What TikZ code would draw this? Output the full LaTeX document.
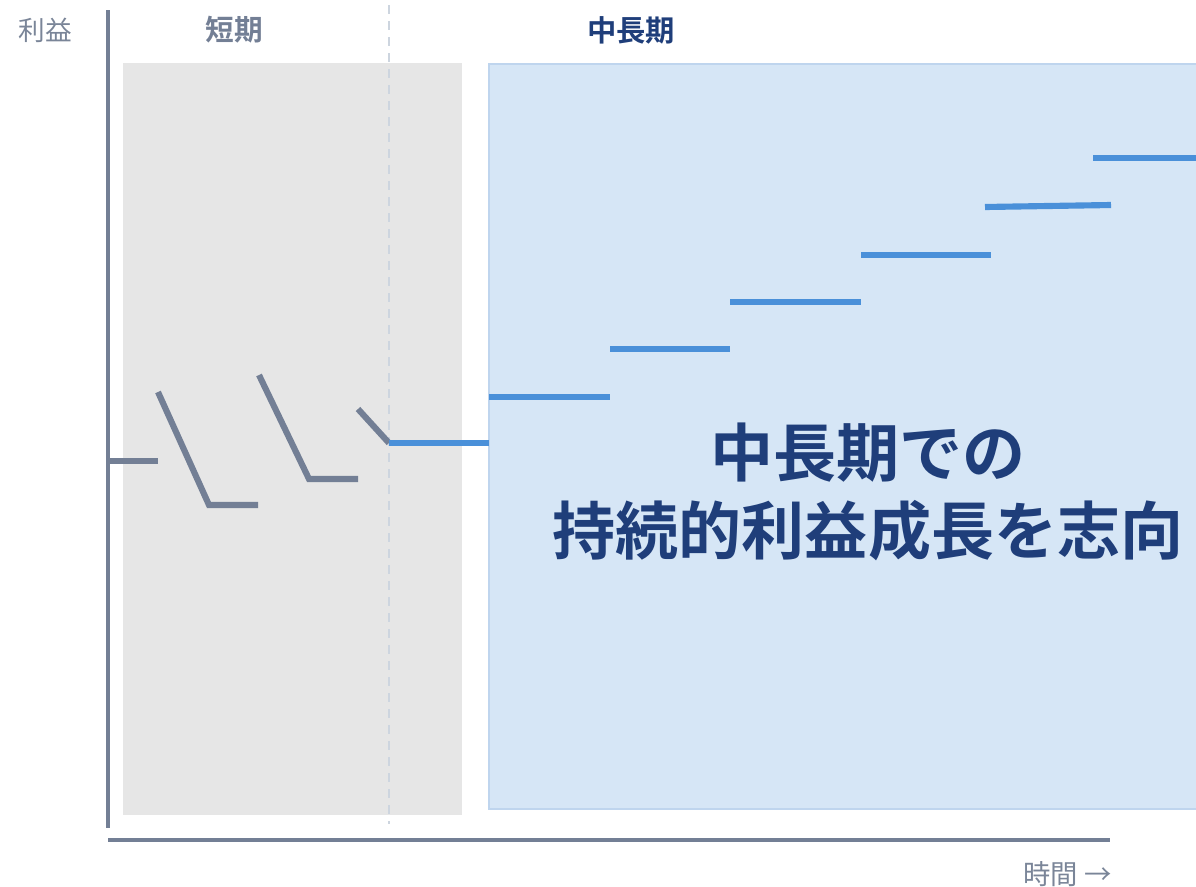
\documentclass[tikz,border=0pt]{standalone}
\usepackage{fontspec}
\newfontfamily\jp{Noto Sans CJK JP}
\newfontfamily\jpb{Noto Sans CJK JP Bold}
\definecolor{slate}{HTML}{737F95}
\definecolor{slatetxt}{HTML}{7A8598}
\definecolor{navy}{HTML}{1F3E7A}
\definecolor{bluel}{HTML}{4A90D9}
\definecolor{boxfill}{HTML}{D6E6F6}
\definecolor{boxedge}{HTML}{BFD5EE}
\definecolor{grayfill}{HTML}{E6E6E6}
\definecolor{dashc}{HTML}{CDD5DF}
\tikzset{
  axisline/.style={draw=slate, line width=2.6},
  grayseg/.style={draw=slate, line width=4.6},
  blueseg/.style={draw=bluel, line width=4.6},
  lbl/.style={inner sep=0pt, anchor=center},
}
\begin{document}
\begin{tikzpicture}[x=0.75pt,y=-0.75pt]
\useasboundingbox (0,0) rectangle (1196,886);
% panels
\fill[grayfill] (123,63) rectangle (462,815);
\draw[fill=boxfill, draw=boxedge, line width=2] (489,64) rectangle (1200,809);
% dashed divider
\draw[dashc, line width=1.5, dash pattern=on 7pt off 5pt] (389,5) -- (389,824);
% axes
\coordinate (yt) at (108,10); \coordinate (yb) at (108,828);
\coordinate (xl) at (108,840); \coordinate (xr) at (1110,840);
\draw[axisline] (yt) -- (yb);
\draw[axisline] (xl) -- (xr);
% labels
\node[lbl, text=slatetxt, font=\jp\fontsize{20}{22}\selectfont] (ylab) at (45,30) {利益};
\node[lbl, text=slate, font=\jpb\fontsize{21.5}{24}\selectfont] (short) at (234,30) {短期};
\node[lbl, text=navy, font=\jpb\fontsize{22}{24}\selectfont] (mid) at (631,30) {中長期};
\node[lbl, text=slatetxt, font=\jp\fontsize{20.5}{22}\selectfont, anchor=east] (xlab) at (1112,874) {時間 →};
% gray short-term zigzag
\coordinate (g0) at (108,461); \coordinate (g1) at (158,461);
\coordinate (g2) at (158,392); \coordinate (g3) at (209,505); \coordinate (g4) at (258,505);
\coordinate (g5) at (259,375); \coordinate (g6) at (309,479); \coordinate (g7) at (358,479);
\coordinate (g8) at (358,409); \coordinate (g9) at (389,443);
\draw[grayseg] (g0) -- (g1);
\draw[grayseg] (g2) -- (g3) -- (g4);
\draw[grayseg] (g5) -- (g6) -- (g7);
\draw[grayseg] (g8) -- (g9);
% blue steps
\coordinate (b0) at (389,443); \coordinate (b1) at (489,443);
\coordinate (b2) at (489,397); \coordinate (b3) at (610,397);
\coordinate (b4) at (610,349); \coordinate (b5) at (730,349);
\coordinate (b6) at (730,302); \coordinate (b7) at (861,302);
\coordinate (b8) at (861,255); \coordinate (b9) at (991,255);
\coordinate (b10) at (985,207); \coordinate (b11) at (1111,205);
\coordinate (b12) at (1093,158); \coordinate (b13) at (1196,158);
\draw[blueseg] (b0) -- (b1);
\draw[blueseg] (b2) -- (b3);
\draw[blueseg] (b4) -- (b5);
\draw[blueseg] (b6) -- (b7);
\draw[blueseg] (b8) -- (b9);
\draw[blueseg] (b10) -- (b11);
\draw[blueseg] (b12) -- (b13);
% main message
\node[lbl, text=navy, font=\jpb\fontsize{47.3}{58}\selectfont, align=center] (msg) at (868,492) {中長期での\\持続的利益成長を志向};
\end{tikzpicture}
\end{document}
